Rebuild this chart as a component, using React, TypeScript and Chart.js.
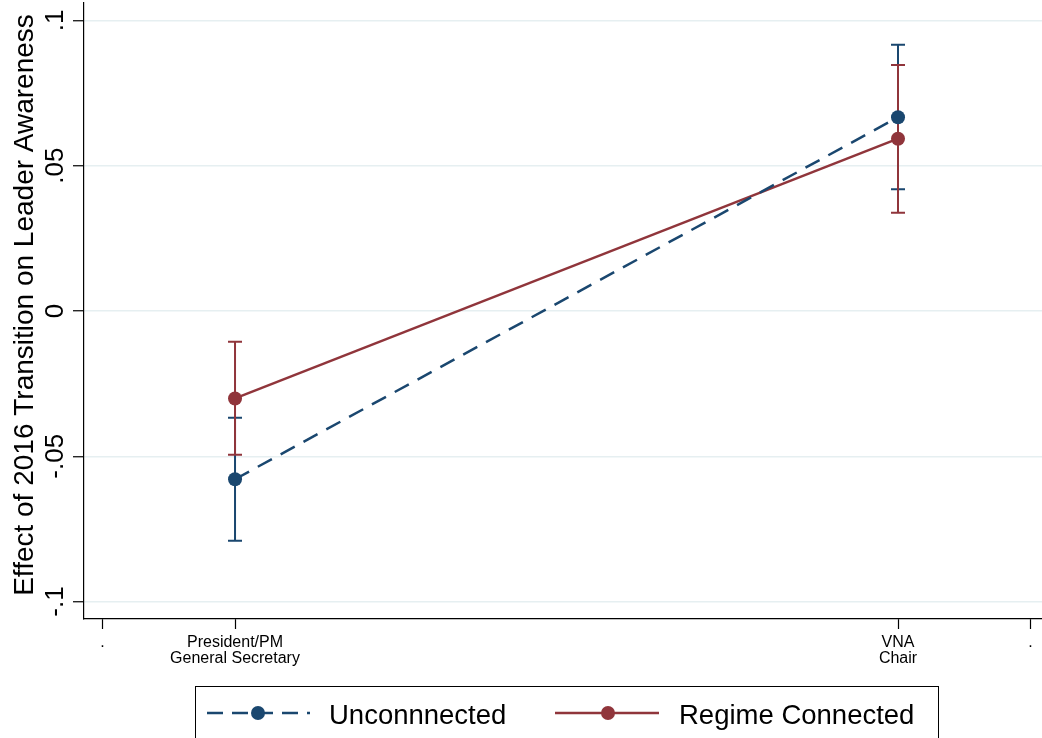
import React, { useEffect, useRef } from "react";
import { Chart, registerables } from "chart.js";

Chart.register(...registerables);

// ---- data ----
const categoryX = [1, 2];
const categoryLabels = [["President/PM", "General Secretary"], ["VNA", "Chair"]];
const xTickValues = [0.8, 1, 2, 2.2];
const xTickLabels = [".", ["President/PM", "General Secretary"], ["VNA", "Chair"], "."];
const yTickValues = [-0.1, -0.05, 0, 0.05, 0.1];
const yTickLabels = ["-.1", "-.05", "0", ".05", ".1"];

const unconnectedEst = [-0.0579, 0.0667];
const unconnectedLow = [-0.0791, 0.0419];
const unconnectedHigh = [-0.0367, 0.0916];

const connectedEst = [-0.0301, 0.0593];
const connectedLow = [-0.0495, 0.0338];
const connectedHigh = [-0.0106, 0.0847];

const seriesNames = ["Unconnnected", "Regime Connected"];
const BLUE = "#1a476f";
const RED = "#90353b";
const FONT = "'Liberation Sans', Arial, Helvetica, sans-serif";
const yTitle = "Effect of 2016 Transition on Leader Awareness";

const errorSeries = [
  { color: BLUE, low: unconnectedLow, high: unconnectedHigh },
  { color: RED, low: connectedLow, high: connectedHigh },
];

const errorBarPlugin = {
  id: "errorBars",
  beforeDatasetsDraw(chart: any) {
    const { ctx, scales } = chart;
    const x = scales.x;
    const y = scales.y;
    ctx.save();
    errorSeries.forEach((s) => {
      ctx.strokeStyle = s.color;
      ctx.lineWidth = 2;
      categoryX.forEach((cx, i) => {
        const px = x.getPixelForValue(cx);
        const pl = y.getPixelForValue(s.low[i]);
        const ph = y.getPixelForValue(s.high[i]);
        ctx.beginPath();
        ctx.moveTo(px, pl);
        ctx.lineTo(px, ph);
        ctx.moveTo(px - 7, pl);
        ctx.lineTo(px + 7, pl);
        ctx.moveTo(px - 7, ph);
        ctx.lineTo(px + 7, ph);
        ctx.stroke();
      });
    });
    ctx.restore();
  },
};

const textPlugin = {
  id: "customText",
  afterDraw(chart: any) {
    const { ctx, scales } = chart;
    const y = scales.y;
    ctx.save();
    ctx.fillStyle = "#000";
    // y tick labels, rotated
    ctx.font = `26px ${FONT}`;
    ctx.textAlign = "center";
    ctx.textBaseline = "alphabetic";
    yTickValues.forEach((v, i) => {
      const py = y.getPixelForValue(v);
      ctx.save();
      ctx.translate(63, py);
      ctx.rotate(-Math.PI / 2);
      ctx.fillText(yTickLabels[i], 0, 0);
      ctx.restore();
    });
    // y title
    ctx.font = `28px ${FONT}`;
    ctx.save();
    ctx.translate(33, 305);
    ctx.rotate(-Math.PI / 2);
    ctx.fillText(yTitle, 0, 0);
    ctx.restore();

    // legend
    ctx.strokeStyle = "#000";
    ctx.lineWidth = 1;
    ctx.strokeRect(195.5, 686.5, 743, 60);
    const ly = 713;
    const entries = [
      { x0: 207, x1: 310, m: 258, tx: 329, color: BLUE, dash: [16, 9] },
      { x0: 555, x1: 659, m: 608, tx: 679, color: RED, dash: [] as number[] },
    ];
    entries.forEach((e, i) => {
      ctx.strokeStyle = e.color;
      ctx.lineWidth = 2.5;
      ctx.setLineDash(e.dash);
      ctx.beginPath();
      ctx.moveTo(e.x0, ly);
      ctx.lineTo(e.x1, ly);
      ctx.stroke();
      ctx.setLineDash([]);
      ctx.fillStyle = e.color;
      ctx.beginPath();
      ctx.arc(e.m, ly, 7, 0, Math.PI * 2);
      ctx.fill();
      ctx.fillStyle = "#000";
      ctx.font = `27.5px ${FONT}`;
      ctx.textAlign = "left";
      ctx.fillText(seriesNames[i], e.tx, 724);
    });
    ctx.restore();
  },
};

export default function App() {
  const ref = useRef<HTMLCanvasElement | null>(null);
  useEffect(() => {
    if (!ref.current) return;
    const chart = new Chart(ref.current, {
      type: "line",
      data: {
        datasets: [
          {
            label: seriesNames[0],
            data: categoryX.map((x, i) => ({ x, y: unconnectedEst[i] })),
            borderColor: BLUE,
            backgroundColor: BLUE,
            borderWidth: 2.5,
            borderDash: [16, 10],
            pointRadius: 7,
            pointBorderWidth: 0,
            pointBackgroundColor: BLUE,
            tension: 0,
          },
          {
            label: seriesNames[1],
            data: categoryX.map((x, i) => ({ x, y: connectedEst[i] })),
            borderColor: RED,
            backgroundColor: RED,
            borderWidth: 2.5,
            pointRadius: 7,
            pointBorderWidth: 0,
            pointBackgroundColor: RED,
            tension: 0,
          },
        ],
      },
      options: {
        responsive: false,
        animation: false,
        layout: { autoPadding: false, padding: { left: 0, top: 3, right: 0, bottom: 0 } },
        plugins: { legend: { display: false }, tooltip: { enabled: false } },
        scales: {
          x: {
            type: "linear",
            min: 0.7722,
            max: 2.2172,
            afterBuildTicks: (scale: any) => {
              scale.ticks = xTickValues.map((v) => ({ value: v }));
            },
            afterFit: (scale: any) => {
              scale.height = 119;
              scale.paddingLeft = 0;
              scale.paddingRight = 0;
            },
            ticks: {
              autoSkip: false,
              maxRotation: 0,
              minRotation: 0,
              padding: 6,
              color: "#000",
              font: { family: FONT, size: 16, lineHeight: 1.0 },
              callback: (_v: any, i: number) => xTickLabels[i] as any,
            },
            grid: {
              drawOnChartArea: false,
              drawTicks: true,
              tickLength: 10,
              tickColor: "#000",
              tickWidth: 1.2,
            },
            border: { display: true, color: "#000", width: 1.2 },
          },
          y: {
            type: "linear",
            min: -0.106,
            max: 0.106,
            afterBuildTicks: (scale: any) => {
              scale.ticks = yTickValues.map((v) => ({ value: v }));
            },
            afterFit: (scale: any) => {
              scale.width = 84;
              scale.paddingTop = 0;
              scale.paddingBottom = 0;
            },
            ticks: {
              color: "rgba(0,0,0,0)",
              font: { family: FONT, size: 10 },
              callback: (_v: any, i: number) => yTickLabels[i],
            },
            grid: {
              color: "#e6eff1",
              lineWidth: 1.5,
              drawTicks: true,
              tickLength: 11,
              tickColor: "#000",
              tickWidth: 1.2,
            },
            border: { display: true, color: "#000", width: 1.2 },
          },
        },
      },
      plugins: [errorBarPlugin, textPlugin],
    });
    return () => chart.destroy();
  }, []);
  return (
    <div style={{ position: "absolute", left: 0, top: 0, width: 1042, height: 738, background: "#fff" }}>
      <canvas ref={ref} width={1042} height={738} style={{ display: "block" }} />
    </div>
  );
}
